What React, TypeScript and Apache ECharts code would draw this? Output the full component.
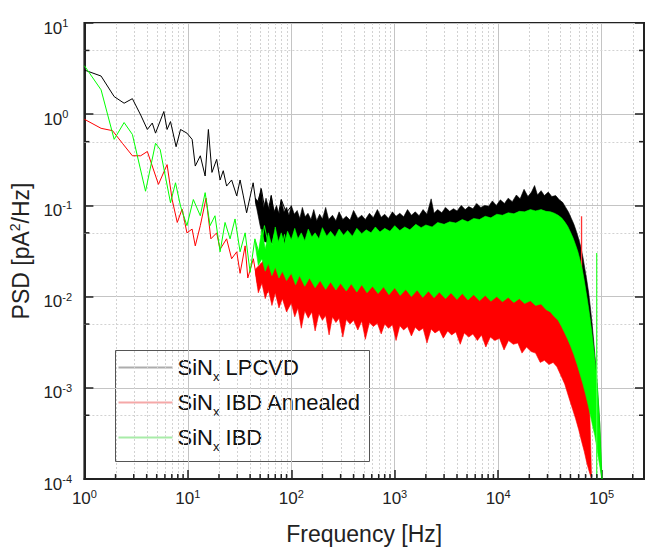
import React, { useEffect, useRef } from 'react';
import * as echarts from 'echarts';

const FONT = '"Liberation Sans", Arial, sans-serif';

// axis ticks
const xTickValues = [1, 10, 100, 1000, 10000, 100000];
const xTickExps = ['0', '1', '2', '3', '4', '5'];
const yTickValues = [0.0001, 0.001, 0.01, 0.1, 1, 10];
const yTickExps = ['-4', '-3', '-2', '-1', '0', '1'];
const xDecades = [1, 10, 100, 1000, 10000, 100000];
const xMinorMult = [2, 3, 4, 5, 6, 7, 8, 9];
const yDecades = [0.0001, 0.001, 0.01, 0.1, 1];
const yMinorMult = [5];
const X_MIN = 1;
const X_MAX = 257000;
const Y_MIN = 0.0001;
const Y_MAX = 10;

// legend entries: "SiN" + subscript "x" + rest
const legendSuffixes = [' LPCVD', ' IBD Annealed', ' IBD'];
const legendIconColors = ['#adadad', '#f5a8a8', '#a8eca8'];

// ---- SiNx LPCVD (black) ----
const lpcvdLowFreq = [1, 1.45, 1.94, 2.42, 2.91, 3.5, 4.06, 4.53, 4.87, 5.86, 6.3, 6.8, 7.7, 8.5, 9.8, 11, 11.8, 13.2, 14.7, 15.8, 17.1, 19, 20.5, 22, 23.7, 26.5, 29.7, 32, 34.4, 37, 42.8, 46, 51.5, 57.6, 64, 71.6, 80, 89.6, 100];
const lpcvdLowPsd = [3.05, 2.62, 1.56, 1.32, 1.48, 0.98, 0.68, 0.8, 0.62, 1.07, 0.68, 0.83, 0.44, 0.68, 0.62, 0.53, 0.27, 0.35, 0.21, 0.68, 0.23, 0.32, 0.19, 0.24, 0.163, 0.19, 0.127, 0.19, 0.127, 0.083, 0.177, 0.098, 0.15, 0.07, 0.127, 0.06, 0.116, 0.083, 0.098];
const lpcvdHiFreq = [45, 48, 51, 54, 57, 61, 64, 68, 72, 76, 80, 85, 90, 95, 100, 107, 114, 121, 128, 136, 145, 155, 165, 176, 188, 200, 215, 230, 250, 270, 290, 315, 340, 370, 400, 440, 480, 520, 570, 620, 680, 740, 800, 870, 950, 1030, 1120, 1220, 1330, 1450, 1580, 1720, 1880, 2050, 2250, 2400, 2600, 2850, 3100, 3400, 3700, 4000, 4400, 4800, 5200, 5700, 6200, 6800, 7400, 8100, 8800, 9600, 10500, 11500, 12500, 13700, 15000, 16300, 17800, 19400, 21000, 22500, 24000, 26000, 28000, 30500, 33000, 36000, 39000, 42000, 45000, 48000, 51000, 54000, 57000, 60000, 63000, 66000, 69000, 72000, 75000, 78000, 81000, 84000, 87000, 90000, 93000, 96000, 100000];
const lpcvdHi = [0.12, 0.11, 0.155, 0.095, 0.12, 0.09, 0.13, 0.085, 0.1, 0.08, 0.115, 0.085, 0.095, 0.078, 0.1, 0.08, 0.088, 0.072, 0.095, 0.075, 0.082, 0.07, 0.09, 0.068, 0.08, 0.071, 0.095, 0.07, 0.078, 0.068, 0.085, 0.07, 0.076, 0.069, 0.088, 0.072, 0.078, 0.07, 0.082, 0.073, 0.09, 0.074, 0.08, 0.072, 0.085, 0.076, 0.082, 0.075, 0.09, 0.078, 0.085, 0.077, 0.09, 0.08, 0.118, 0.082, 0.09, 0.083, 0.095, 0.086, 0.092, 0.087, 0.1, 0.09, 0.097, 0.092, 0.105, 0.095, 0.1, 0.098, 0.112, 0.1, 0.115, 0.105, 0.12, 0.11, 0.13, 0.118, 0.15, 0.125, 0.14, 0.165, 0.13, 0.145, 0.128, 0.14, 0.125, 0.128, 0.115, 0.108, 0.095, 0.084, 0.072, 0.062, 0.052, 0.043, 0.035, 0.027, 0.02, 0.015, 0.011, 0.0075, 0.005, 0.0032, 0.002, 0.0012, 0.0007, 0.0004, 0.0001];
const lpcvdLoFreq = [45, 50, 55, 100, 1000, 10000, 30000, 50000, 60000, 70000, 80000, 90000, 100000];
const lpcvdLo = [0.11, 0.06, 0.04, 0.035, 0.035, 0.04, 0.045, 0.03, 0.02, 0.008, 0.003, 0.0008, 0.0001];

// ---- SiNx IBD Annealed (red) ----
const annealedLowFreq = [1, 1.45, 1.87, 2.33, 2.91, 3.5, 4.06, 5.2, 6.3, 7.05, 7.9, 8.8, 9.8, 11, 11.8, 13.2, 15, 16.7, 19, 20.5, 23.7, 26.5, 29.7, 32, 35.8, 38, 43, 47.6, 53, 59, 66, 74, 83];
const annealedLowPsd = [0.88, 0.7, 0.66, 0.48, 0.35, 0.35, 0.39, 0.17, 0.28, 0.116, 0.065, 0.091, 0.05, 0.055, 0.036, 0.06, 0.12, 0.043, 0.05, 0.033, 0.043, 0.026, 0.031, 0.018, 0.036, 0.016, 0.026, 0.013, 0.024, 0.011, 0.02, 0.009, 0.017];
const annealedHiFreq = [45, 60, 100, 1000, 10000, 30000, 45000, 55000, 65000, 75000, 80000];
const annealedHi = [0.02, 0.028, 0.025, 0.02, 0.02, 0.018, 0.012, 0.007, 0.004, 0.0015, 0.0001];
const annealedLoFreq = [45, 48, 52, 56, 60, 65, 70, 76, 82, 90, 100, 108, 116, 125, 135, 146, 158, 170, 185, 200, 215, 232, 250, 270, 290, 315, 340, 370, 400, 440, 480, 520, 570, 620, 680, 740, 800, 870, 950, 1030, 1120, 1220, 1330, 1450, 1580, 1720, 1880, 2050, 2250, 2450, 2700, 2950, 3250, 3550, 3900, 4300, 4700, 5200, 5700, 6300, 6900, 7600, 8400, 9300, 10300, 11400, 12600, 14000, 15500, 17000, 18800, 20800, 23000, 25500, 28000, 31000, 34000, 37000, 40000, 44000, 48000, 52000, 56000, 60000, 64000, 68000, 72000, 76000, 80000];
const annealedLo = [0.018, 0.011, 0.014, 0.0095, 0.012, 0.008, 0.011, 0.0075, 0.0095, 0.0068, 0.0085, 0.006, 0.0075, 0.0045, 0.007, 0.0058, 0.0068, 0.0042, 0.0065, 0.0055, 0.0062, 0.0038, 0.006, 0.0052, 0.0058, 0.0036, 0.0056, 0.005, 0.0055, 0.0043, 0.0054, 0.0034, 0.0052, 0.0047, 0.0051, 0.0039, 0.005, 0.0045, 0.0049, 0.0033, 0.0048, 0.0043, 0.0047, 0.0037, 0.0046, 0.0042, 0.0045, 0.0031, 0.0044, 0.004, 0.0043, 0.0035, 0.0042, 0.0038, 0.0041, 0.003, 0.004, 0.0036, 0.0039, 0.0033, 0.0038, 0.0028, 0.0036, 0.0033, 0.0035, 0.0026, 0.0033, 0.003, 0.0031, 0.0024, 0.0028, 0.0025, 0.0024, 0.0019, 0.002, 0.0018, 0.0019, 0.0017, 0.0014, 0.0011, 0.0008, 0.0006, 0.00046, 0.00035, 0.00026, 0.0002, 0.00015, 0.00012, 0.0001];
const annealedSpikeFreq = [64000, 64000];
const annealedSpikePsd = [0.0025, 0.076];

// ---- SiNx IBD (green) ----
const ibdLowFreq = [1, 1.45, 1.94, 2.42, 2.91, 3.9, 4.87, 5.4, 6.8, 7.6, 8.5, 9.8, 11.3, 13.2, 14.7, 16.4, 18.3, 20.5, 22.9, 25.6, 28.6, 32, 35.8, 40, 44.5, 49.6, 55, 62, 69, 77, 86, 95];
const ibdLowPsd = [3.4, 1.85, 0.53, 0.81, 0.6, 0.143, 0.48, 0.41, 0.107, 0.177, 0.098, 0.06, 0.116, 0.077, 0.138, 0.06, 0.077, 0.031, 0.065, 0.043, 0.071, 0.031, 0.05, 0.0185, 0.043, 0.028, 0.06, 0.031, 0.05, 0.025, 0.048, 0.022];
const ibdHiFreq = [45, 48, 52, 56, 60, 65, 70, 75, 80, 86, 92, 100, 108, 116, 125, 135, 146, 158, 170, 185, 200, 220, 240, 265, 290, 320, 350, 390, 430, 480, 530, 590, 650, 720, 800, 900, 1000, 1120, 1250, 1400, 1600, 1800, 2000, 2300, 2600, 3000, 3400, 3900, 4500, 5100, 5800, 6600, 7500, 8500, 9700, 11000, 12500, 14200, 16000, 18000, 20500, 23000, 26000, 29000, 32000, 35000, 38000, 41000, 44000, 47000, 50000, 53000, 56000, 59000, 62000, 65000, 68000, 71000, 74000, 77000, 80000, 83000, 86000, 89000, 92000, 95000, 98000, 101000];
const ibdHi = [0.04, 0.03, 0.055, 0.033, 0.05, 0.036, 0.058, 0.04, 0.05, 0.038, 0.052, 0.042, 0.056, 0.043, 0.05, 0.041, 0.055, 0.045, 0.05, 0.043, 0.057, 0.046, 0.052, 0.045, 0.055, 0.047, 0.053, 0.046, 0.056, 0.049, 0.054, 0.05, 0.058, 0.051, 0.056, 0.052, 0.06, 0.053, 0.058, 0.054, 0.062, 0.057, 0.061, 0.058, 0.065, 0.062, 0.066, 0.064, 0.07, 0.066, 0.072, 0.07, 0.076, 0.073, 0.08, 0.078, 0.083, 0.081, 0.086, 0.085, 0.09, 0.087, 0.09, 0.086, 0.085, 0.082, 0.078, 0.073, 0.066, 0.059, 0.051, 0.044, 0.037, 0.031, 0.025, 0.02, 0.015, 0.011, 0.0082, 0.006, 0.0043, 0.003, 0.0021, 0.0014, 0.0009, 0.0005, 0.00025, 0.0001];
const ibdLoFreq = [45, 48, 52, 56, 60, 65, 70, 76, 82, 90, 100, 110, 120, 135, 150, 170, 190, 215, 240, 270, 300, 340, 380, 430, 480, 540, 610, 690, 780, 880, 1000, 1130, 1280, 1450, 1650, 1870, 2120, 2400, 2700, 3100, 3500, 4000, 4500, 5100, 5800, 6600, 7500, 8500, 9700, 11000, 12500, 14200, 16000, 18000, 20500, 23000, 26000, 29000, 32000, 35000, 38000, 41000, 44000, 47000, 50000, 54000, 58000, 62000, 66000, 70000, 74000, 78000, 82000, 86000, 90000, 94000, 98000, 101000];
const ibdLo = [0.036, 0.022, 0.026, 0.019, 0.023, 0.017, 0.021, 0.016, 0.019, 0.015, 0.018, 0.0135, 0.017, 0.013, 0.016, 0.0125, 0.015, 0.012, 0.0145, 0.0118, 0.014, 0.0115, 0.0138, 0.0112, 0.0135, 0.011, 0.013, 0.0108, 0.0128, 0.0105, 0.0125, 0.0103, 0.012, 0.01, 0.0118, 0.0098, 0.0115, 0.0097, 0.0112, 0.0095, 0.011, 0.0093, 0.0108, 0.0092, 0.0105, 0.009, 0.0103, 0.0089, 0.01, 0.0088, 0.0098, 0.0086, 0.0095, 0.0084, 0.009, 0.008, 0.0083, 0.0072, 0.0068, 0.006, 0.0055, 0.0047, 0.004, 0.0034, 0.0029, 0.0023, 0.0018, 0.0014, 0.0011, 0.00085, 0.00065, 0.0005, 0.00038, 0.0003, 0.00022, 0.00016, 0.00012, 0.0001];
const ibdSpikeFreq = [89600, 89600];
const ibdSpikePsd = [0.0001, 0.03];

const zip = (xs: number[], ys: number[]) => xs.slice(0, Math.min(xs.length, ys.length)).map((x, i) => [x, ys[i]]);

function bandSeries(name: string, hiF: number[], hi: number[], loF: number[], lo: number[], color: string, z: number) {
  const upper = zip(hiF, hi);
  const lower = zip(loF, lo);
  return {
    type: 'custom',
    name,
    z,
    silent: true,
    clip: true,
    data: [upper[0]],
    renderItem: (_params: any, api: any) => {
      const pts: number[][] = [];
      upper.forEach((p) => pts.push(api.coord(p)));
      for (let i = lower.length - 1; i >= 0; i--) pts.push(api.coord(lower[i]));
      return {
        type: 'polygon',
        shape: { points: pts },
        style: { fill: color, stroke: color, lineWidth: 0.6 },
      };
    },
  };
}

function lineSeries(name: string, xs: number[], ys: number[], color: string, z: number, width = 1) {
  return {
    type: 'line',
    name,
    z,
    data: zip(xs, ys),
    showSymbol: false,
    symbol: 'none',
    silent: true,
    lineStyle: { color, width },
    itemStyle: { color },
  };
}

const labelFormatter = (values: number[], exps: string[]) => (v: number) => {
  for (let i = 0; i < values.length; i++) {
    if (Math.abs(Math.log10(v) - Math.log10(values[i])) < 1e-6) return `{b|10}{s|${exps[i]}}`;
  }
  return '';
};

const labelRich = {
  b: { fontSize: 17, fontFamily: FONT, color: '#222', lineHeight: 17, padding: [4, 0, 0, 0] },
  s: { fontSize: 11, fontFamily: FONT, color: '#222', lineHeight: 12, verticalAlign: 'top' },
};

// legend box geometry (pixels)
const LEG_X = 115.5;
const LEG_Y = 350.5;
const LEG_W = 254;
const LEG_H = 111;
const LEG_ROW0 = 367.5;
const LEG_ROW_STEP = 35;

export default function App() {
  const ref = useRef<HTMLDivElement>(null);
  useEffect(() => {
    if (!ref.current) return;
    const chart = echarts.init(ref.current, undefined, { renderer: 'svg' });

    const decorGrid = {
      type: 'custom',
      name: 'minor-grid',
      z: 1,
      silent: true,
      data: [[1, 1]],
      renderItem: (_p: any, api: any) => {
        const children: any[] = [];
        xDecades.forEach((d) => xMinorMult.forEach((m) => {
          const v = d * m;
          if (v >= X_MAX) return;
          const a = api.coord([v, Y_MAX]);
          const b = api.coord([v, Y_MIN]);
          const x = Math.round(a[0]) + 0.5;
          children.push({ type: 'line', shape: { x1: x, y1: a[1], x2: x, y2: b[1] }, style: { stroke: '#d2d2d2', lineWidth: 1, lineDash: [2, 2] } });
        }));
        yDecades.forEach((d) => yMinorMult.forEach((m) => {
          const v = d * m;
          const a = api.coord([X_MIN, v]);
          const b = api.coord([X_MAX, v]);
          const y = Math.round(a[1]) + 0.5;
          children.push({ type: 'line', shape: { x1: a[0], y1: y, x2: b[0], y2: y }, style: { stroke: '#d2d2d2', lineWidth: 1, lineDash: [2, 2] } });
        }));
        return { type: 'group', children };
      },
    };

    const decorTicks = {
      type: 'custom',
      name: 'minor-ticks',
      z: 6,
      silent: true,
      data: [[1, 1]],
      renderItem: (_p: any, api: any) => {
        const children: any[] = [];
        xDecades.forEach((d) => xMinorMult.forEach((m) => {
          const v = d * m;
          if (v >= X_MAX) return;
          const b = api.coord([v, Y_MIN]);
          children.push({ type: 'line', shape: { x1: b[0], y1: b[1], x2: b[0], y2: b[1] - 5 }, style: { stroke: '#222', lineWidth: 1.5 } });
        }));
        yDecades.forEach((d) => yMinorMult.forEach((m) => {
          const v = d * m;
          const a = api.coord([X_MIN, v]);
          const b = api.coord([X_MAX, v]);
          children.push({ type: 'line', shape: { x1: a[0], y1: a[1], x2: a[0] + 5, y2: a[1] }, style: { stroke: '#222', lineWidth: 1.5 } });
          children.push({ type: 'line', shape: { x1: b[0], y1: b[1], x2: b[0] - 5, y2: b[1] }, style: { stroke: '#222', lineWidth: 1.5 } });
        }));
        return { type: 'group', children };
      },
    };

    const legendRich = {
      a: { fontSize: 22, fontFamily: FONT, fill: '#111', lineHeight: 30 },
      x: { fontSize: 13, fontFamily: FONT, fill: '#111', lineHeight: 8, verticalAlign: 'bottom' },
    };

    const legendChildren: any[] = [
      { type: 'rect', shape: { x: LEG_X, y: LEG_Y, width: LEG_W, height: LEG_H }, style: { fill: '#ffffff', stroke: '#555555', lineWidth: 1 } },
    ];
    legendSuffixes.forEach((suffix, i) => {
      const cy = LEG_ROW0 + i * LEG_ROW_STEP;
      legendChildren.push({ type: 'line', shape: { x1: LEG_X + 3, y1: cy, x2: LEG_X + 57, y2: cy }, style: { stroke: legendIconColors[i], lineWidth: 2 } });
      legendChildren.push({
        type: 'text',
        x: LEG_X + 62,
        y: cy,
        style: { text: `{a|SiN}{x|x}{a|${suffix}}`, rich: legendRich, verticalAlign: 'middle', align: 'left', fill: '#111', font: `22px ${FONT}` },
      });
    });

    const option: any = {
      animation: false,
      backgroundColor: '#ffffff',
      textStyle: { fontFamily: FONT },
      grid: { left: 83, right: 1, top: 23, bottom: 69, show: true, borderColor: '#222', borderWidth: 2, backgroundColor: 'transparent' },
      graphic: [{ type: 'group', z: 100, silent: true, children: legendChildren }],
      xAxis: [{
        type: 'log',
        logBase: 10,
        min: X_MIN,
        max: X_MAX,
        axisLine: { show: true, lineStyle: { color: '#222', width: 2 } },
        axisTick: { show: true, inside: true, length: 9, lineStyle: { color: '#222', width: 1.5 } },
        splitLine: { show: true, lineStyle: { color: '#c4c4c4', width: 1 } },
        minorTick: { show: false },
        minorSplitLine: { show: false },
        axisLabel: { formatter: labelFormatter(xTickValues, xTickExps), rich: labelRich, margin: 9 },
        name: 'Frequency [Hz]',
        nameLocation: 'middle',
        nameGap: 43,
        nameTextStyle: { fontSize: 23, fontFamily: FONT, color: '#222' },
      }],
      yAxis: [{
        type: 'log',
        logBase: 10,
        min: Y_MIN,
        max: Y_MAX,
        axisLine: { show: true, lineStyle: { color: '#222', width: 2 } },
        axisTick: { show: true, inside: true, length: 9, lineStyle: { color: '#222', width: 1.5 } },
        splitLine: { show: true, lineStyle: { color: '#c4c4c4', width: 1 } },
        minorTick: { show: false },
        axisLabel: { formatter: labelFormatter(yTickValues, yTickExps), rich: labelRich, margin: 41, align: 'left', padding: [6, 0, 0, 0] },
        name: '{a|PSD [pA}{s|2}{a|/Hz]}',
        nameLocation: 'middle',
        nameRotate: 90,
        nameGap: 45,
        nameTextStyle: {
          rich: {
            a: { fontSize: 23, fontFamily: FONT, color: '#222', lineHeight: 26 },
            s: { fontSize: 14, fontFamily: FONT, color: '#222', lineHeight: 14, verticalAlign: 'top' },
          },
        },
      }, {
        type: 'log',
        logBase: 10,
        min: Y_MIN,
        max: Y_MAX,
        position: 'right',
        axisLine: { show: true, lineStyle: { color: '#222', width: 2 } },
        axisTick: { show: true, inside: true, length: 9, lineStyle: { color: '#222', width: 1.5 } },
        splitLine: { show: false },
        axisLabel: { show: false },
      }],
      series: [
        decorGrid,
        bandSeries('SiNx LPCVD band', lpcvdHiFreq, lpcvdHi, lpcvdLoFreq, lpcvdLo, '#000000', 2),
        lineSeries('SiNx LPCVD', lpcvdLowFreq, lpcvdLowPsd, '#000000', 2),
        bandSeries('SiNx IBD Annealed band', annealedHiFreq, annealedHi, annealedLoFreq, annealedLo, '#ff0000', 3),
        lineSeries('SiNx IBD Annealed spike', annealedSpikeFreq, annealedSpikePsd, '#ff3333', 3, 1.3),
        lineSeries('SiNx IBD Annealed', annealedLowFreq, annealedLowPsd, '#ff0000', 3),
        bandSeries('SiNx IBD band', ibdHiFreq, ibdHi, ibdLoFreq, ibdLo, '#00ff00', 4),
        lineSeries('SiNx IBD spike', ibdSpikeFreq, ibdSpikePsd, '#40ff40', 4, 1.3),
        lineSeries('SiNx IBD', ibdLowFreq, ibdLowPsd, '#00ff00', 4),
        decorTicks,
      ],
    };
    chart.setOption(option);
    return () => chart.dispose();
  }, []);
  return <div ref={ref} style={{ position: 'fixed', left: 0, top: 0, width: 647, height: 550 }} />;
}
